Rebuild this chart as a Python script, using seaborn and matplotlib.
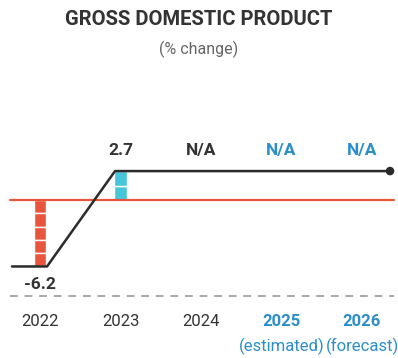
import matplotlib
matplotlib.use("Agg")
import matplotlib.pyplot as plt
import pandas as pd
import seaborn as sns

# data
years = [2022, 2023, 2024, 2025, 2026]
year_labels = ["2022", "2023", "2024", "2025", "2026"]
year_notes = ["", "", "", "(estimated)", "(forecast)"]
gdp_values = [-6.2, 2.7, None, None, None]
value_labels = ["-6.2", "2.7", "N/A", "N/A", "N/A"]
bar_segments = [5, 2, 0, 0, 0]

RED = "#e8553d"
CYAN = "#47c6da"
BLUE = "#2b8ec6"
DARK = "#333333"

sns.set_style("white")
plt.rcParams["font.family"] = ["Roboto", "DejaVu Sans"]

fig = plt.figure(figsize=(3.98, 3.58), dpi=100)
ax = fig.add_axes([0, 0, 1, 1])
ax.set_xlim(2021.503, 2026.447)
ax.set_ylim(-14.74, 18.66)

# segmented bars
for yr, val, nseg in zip(years, gdp_values, bar_segments):
    if val is None or nseg == 0:
        continue
    color = RED if val < 0 else CYAN
    step = val / nseg
    ax.bar([yr] * nseg, [step] * nseg, bottom=[step * i for i in range(nseg)],
           width=0.15, color=color, edgecolor="white", linewidth=1.0, zorder=2)

# zero line and baseline
ax.plot([2021.627, 2026.398], [0, 0], color=RED, lw=1.6, zorder=3)
ax.plot([2021.627, 2026.398], [-8.93, -8.93], color="#a8a8a8", lw=1.4,
        ls=(0, (4, 3.5)), zorder=1)

# GDP path: flat at known values, linking bar edges
known = [v for v in gdp_values if v is not None]
line_df = pd.DataFrame({
    "x": [2021.652, 2022.087, 2022.932, 2026.348],
    "y": [known[0], known[0], known[1], known[1]],
})
sns.lineplot(data=line_df, x="x", y="y", color="#2b2b2b", lw=1.8,
             sort=False, ax=ax, zorder=4)
sns.scatterplot(data=line_df.tail(1), x="x", y="y", color="#2b2b2b", s=38,
                edgecolor="none", ax=ax, zorder=5)
ax.axis("off")

# value labels
for i, (yr, lab) in enumerate(zip(years, value_labels)):
    col = BLUE if i >= 3 else DARK
    yv = -7.9 if (gdp_values[i] is not None and gdp_values[i] < 0) else 4.6
    ax.text(yr, yv, lab, ha="center", va="center", fontsize=12.5,
            fontweight="bold", color=col)

# year labels
for i, (yr, lab, note) in enumerate(zip(years, year_labels, year_notes)):
    future = i >= 3
    ax.text(yr, -11.3, lab, ha="center", va="center", fontsize=12,
            fontweight="bold" if future else "normal",
            color=BLUE if future else DARK)
    if note:
        ax.text(yr, -13.7, note, ha="center", va="center", fontsize=12,
                color=BLUE)

fig.text(0.5, 1 - 19.5 / 358, "GROSS DOMESTIC PRODUCT", ha="center",
         va="center", fontsize=14.5, fontweight="bold", color=DARK)
fig.text(0.5, 1 - 49 / 358, "(% change)", ha="center", va="center",
         fontsize=11.5, color="#666666")

fig.savefig("out.png", dpi=100)
